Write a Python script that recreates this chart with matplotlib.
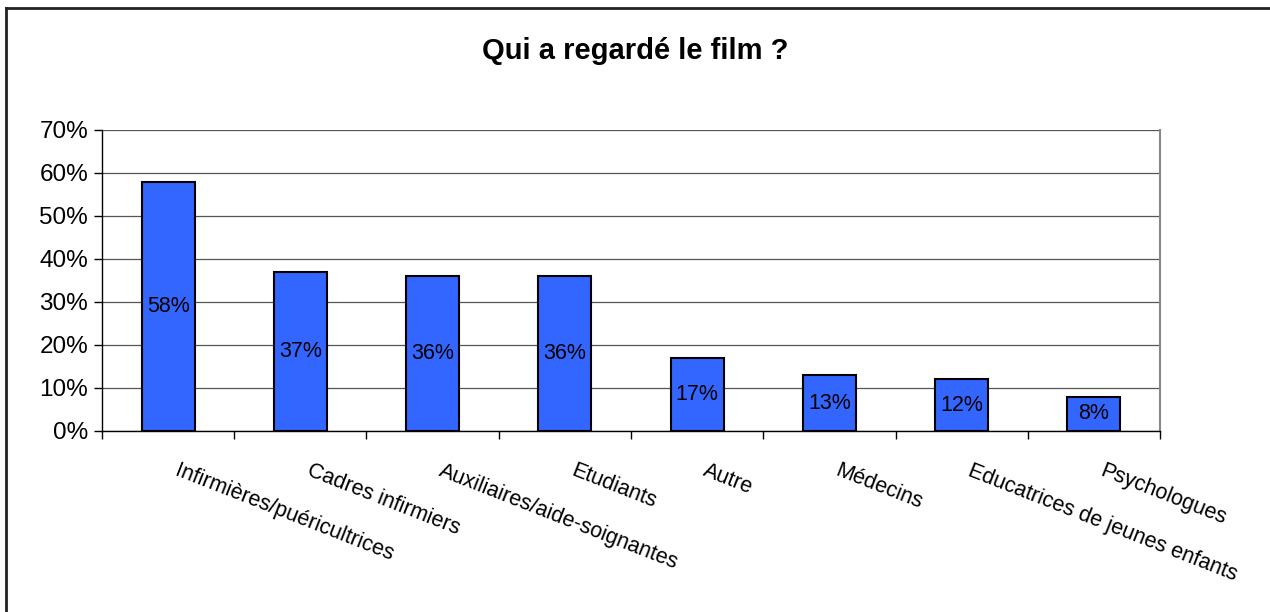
import matplotlib.pyplot as plt
from matplotlib.lines import Line2D
from matplotlib.ticker import FuncFormatter

plt.rcParams['font.family'] = ['Liberation Sans', 'DejaVu Sans']

categories = ['Infirmières/puéricultrices', 'Cadres infirmiers',
              'Auxiliaires/aide-soignantes', 'Etudiants', 'Autre',
              'Médecins', 'Educatrices de jeunes enfants', 'Psychologues']
values = [58, 37, 36, 36, 17, 13, 12, 8]
yticks = [0, 10, 20, 30, 40, 50, 60, 70]
title = 'Qui a regardé le film ?'

fig = plt.figure(figsize=(12.7, 6.12), dpi=100)
ax = fig.add_axes([0.0803, 0.2958, 0.8331, 0.4918])

x = range(len(categories))
bars = ax.bar(x, values, width=0.4, color='#3366FF', edgecolor='black',
              linewidth=1.5, zorder=3)

for b, v in zip(bars, values):
    ax.text(b.get_x() + b.get_width() / 2, v / 2, f'{v}%',
            ha='center', va='center', fontsize=15.5, zorder=4)

ax.set_xlim(-0.5, len(categories) - 0.5)
ax.set_ylim(0, 70)
ax.set_yticks(yticks)
ax.yaxis.set_major_formatter(FuncFormatter(lambda v, p: f'{v:.0f}%'))
ax.yaxis.grid(True, color='#555555', linewidth=0.9, zorder=0)
ax.tick_params(axis='y', labelsize=17.5, length=6, width=1, pad=4)

# ticks between categories, labels placed separately
ax.set_xticks([i - 0.5 for i in range(len(categories) + 1)])
ax.set_xticklabels([])
ax.tick_params(axis='x', length=6, width=1, direction='out')
for i, c in enumerate(categories):
    ax.annotate(c, xy=(i, 0), xycoords=('data', 'axes fraction'),
                xytext=(8, -21), textcoords='offset points',
                rotation=-21.5, rotation_mode='anchor',
                ha='left', va='top', fontsize=15.5)

ax.spines['top'].set_visible(False)
ax.spines['right'].set_color('#888888')
ax.spines['right'].set_linewidth(1.5)
ax.spines['left'].set_linewidth(1)
ax.spines['bottom'].set_linewidth(1)

fig.suptitle(title, x=0.5, y=0.94, fontsize=21, fontweight='bold')

# outer chart frame (only top and left edges show)
fig.add_artist(Line2D([6 / 1270, 6 / 1270], [0, 1 - 8 / 612],
                      transform=fig.transFigure, color='#222222', linewidth=2))
fig.add_artist(Line2D([6 / 1270, 1], [1 - 8 / 612, 1 - 8 / 612],
                      transform=fig.transFigure, color='#222222', linewidth=2))

fig.savefig('out.png', dpi=100)
